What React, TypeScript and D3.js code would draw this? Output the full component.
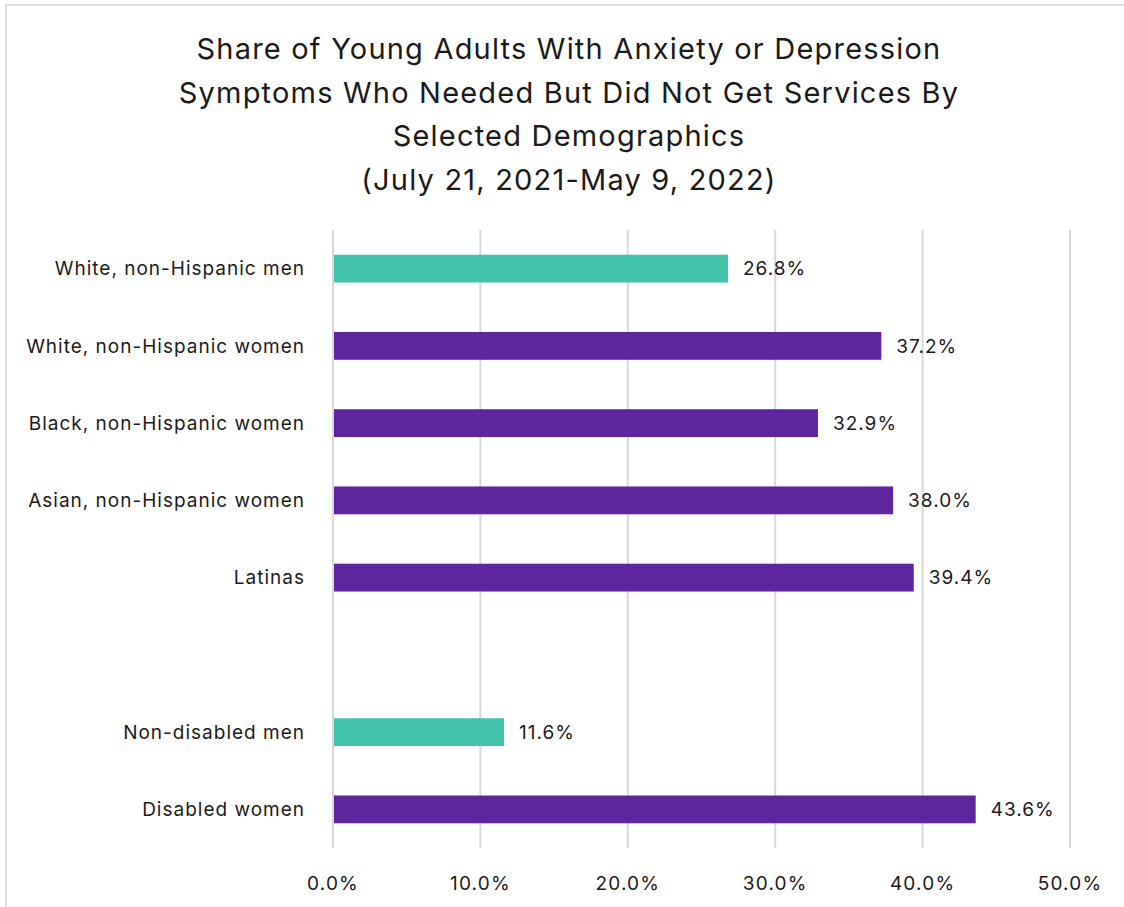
import React from "react";
import * as d3 from "d3";

const categories = [
  "White, non-Hispanic men",
  "White, non-Hispanic women",
  "Black, non-Hispanic women",
  "Asian, non-Hispanic women",
  "Latinas",
  "",
  "Non-disabled men",
  "Disabled women",
];
const values: (number | null)[] = [26.8, 37.2, 32.9, 38.0, 39.4, null, 11.6, 43.6];
const groups = ["men", "women", "women", "women", "women", "", "men", "women"];
const ticks = [0, 10, 20, 30, 40, 50];
const titleLines = [
  "Share of Young Adults With Anxiety or Depression",
  "Symptoms Who Needed But Did Not Get Services By",
  "Selected Demographics",
  "(July 21, 2021-May 9, 2022)",
];

const W = 1124;
const H = 907;
const left = 333;
const right = 1070;
const top = 230;
const bottom = 848;
const FONT = "Inter, 'Noto Sans', sans-serif";

export default function App() {
  const x = d3.scaleLinear().domain([0, 50]).range([left, right]);
  const y = d3
    .scaleBand<number>()
    .domain(categories.map((_, i) => i))
    .range([top, bottom])
    .paddingInner(0.64)
    .paddingOuter(0.32);
  const color = (g: string) => (g === "men" ? "#41c3ab" : "#5f259f");

  return (
    <svg
      width={W}
      height={H}
      style={{ position: "absolute", left: 0, top: 0, background: "#fff" }}
      fontFamily={FONT}
    >
      <rect x={6} y={5} width={W + 20} height={H + 20} fill="#fff" stroke="#dcdcdc" strokeWidth={2} />
      {titleLines.map((t, i) => (
        <text key={i} x={569} y={59 + i * 43.7} textAnchor="middle" fontSize={29} letterSpacing={1.2} fill="#1a1a1a">
          {t}
        </text>
      ))}
      {ticks.map((t) => (
        <g key={t}>
          <line x1={x(t)} x2={x(t)} y1={top} y2={bottom} stroke="#d9d9d9" strokeWidth={2} />
          <text x={x(t)} y={890} textAnchor="middle" fontSize={19} letterSpacing={1.2} fill="#1a1a1a">
            {d3.format(".1f")(t)}%
          </text>
        </g>
      ))}
      {categories.map((c, i) => {
        const yc = (y(i) as number) + y.bandwidth() / 2;
        const v = values[i];
        return (
          <g key={i}>
            {c && (
              <text x={305} y={yc} dy="0.35em" textAnchor="end" fontSize={19} letterSpacing={1.0} fill="#1a1a1a">
                {c}
              </text>
            )}
            {v != null && (
              <>
                <rect x={x(0) + 1} y={y(i)} width={x(v) - x(0) - 1} height={y.bandwidth()} fill={color(groups[i])} />
                <text x={x(v) + 15} y={yc} dy="0.35em" fontSize={19} letterSpacing={1.0} fill="#1a1a1a">
                  {d3.format(".1f")(v)}%
                </text>
              </>
            )}
          </g>
        );
      })}
    </svg>
  );
}
